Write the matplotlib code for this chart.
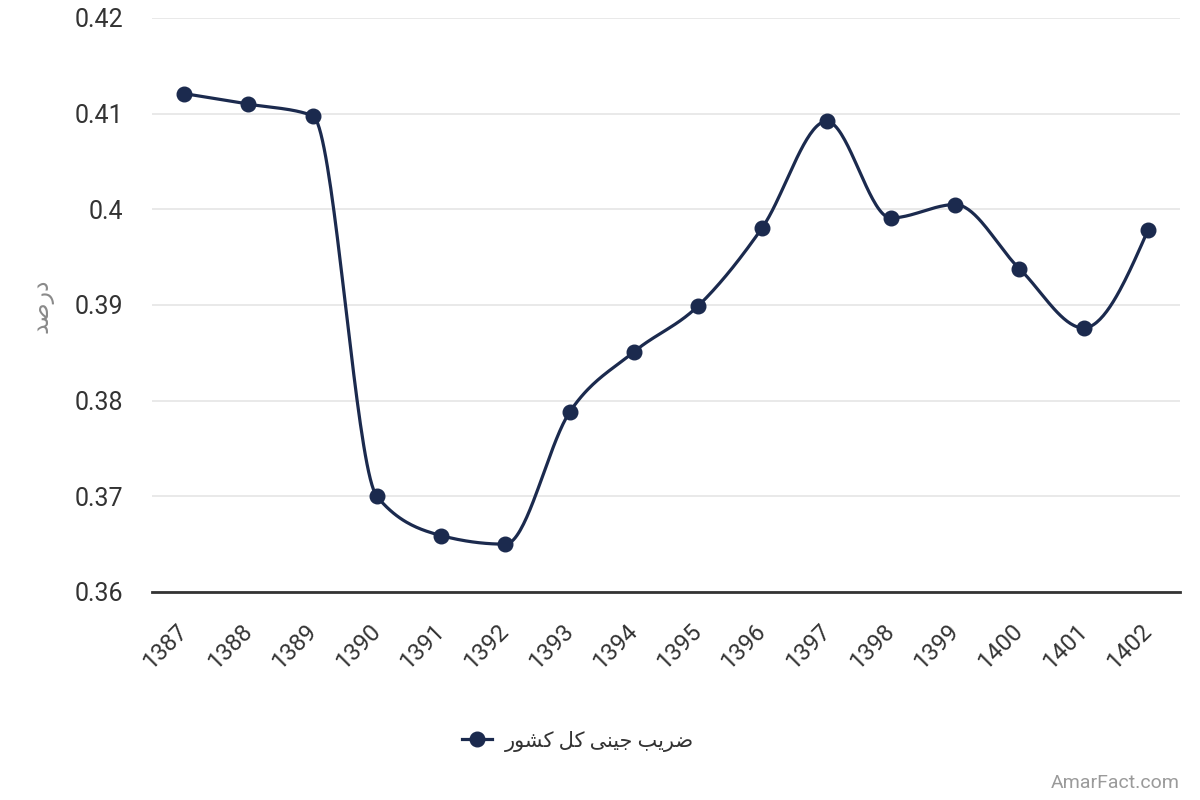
import numpy as np
import matplotlib
matplotlib.use("Agg")
import matplotlib.pyplot as plt
from matplotlib.lines import Line2D

years = ["1387", "1388", "1389", "1390", "1391", "1392", "1393", "1394",
         "1395", "1396", "1397", "1398", "1399", "1400", "1401", "1402"]
gini = [0.4121, 0.4110, 0.4098, 0.3700, 0.3659, 0.3650, 0.3788, 0.3851,
        0.3899, 0.3981, 0.4092, 0.3991, 0.4005, 0.3938, 0.3876, 0.3978]
yticks = [0.36, 0.37, 0.38, 0.39, 0.40, 0.41, 0.42]
ytick_labels = ["0.36", "0.37", "0.38", "0.39", "0.4", "0.41", "0.42"]

# Persian text as shaped presentation forms in visual order
series_name = ("\uFEAD\uFEEE\uFEB8\uFB90 \uFEDE\uFB90 "
               "\uFEF0\uFEE8\uFEF4\uFE9F \uFE90\uFEF3\uFEAE\uFEBF")  # ضریب جینی کل کشور
y_label = "\uFEAA\uFEBB\uFEAD\uFEA9"  # درصد

FAM = ["Roboto", "DejaVu Sans"]
LINE_C = "#1b2a4e"


def monotone_x(xs, ys, n=40):
    xs = np.asarray(xs, float)
    ys = np.asarray(ys, float)
    m = len(xs)
    h = np.diff(xs)
    s = np.diff(ys) / h
    t = np.zeros(m)
    for i in range(1, m - 1):
        h0, h1 = h[i - 1], h[i]
        s0, s1 = s[i - 1], s[i]
        p = (s0 * h1 + s1 * h0) / (h0 + h1)
        t[i] = (np.sign(s0) + np.sign(s1)) * min(abs(s0), abs(s1), 0.5 * abs(p))
    t[0] = (3 * s[0] - t[1]) / 2
    t[-1] = (3 * s[-1] - t[-2]) / 2
    px, py = [], []
    u = np.linspace(0, 1, n)
    for i in range(m - 1):
        x0, x1 = xs[i], xs[i + 1]
        y0, y1 = ys[i], ys[i + 1]
        dx = (x1 - x0) / 3
        cx = [x0, x0 + dx, x1 - dx, x1]
        cy = [y0, y0 + dx * t[i], y1 - dx * t[i + 1], y1]
        b = [(1 - u) ** 3, 3 * (1 - u) ** 2 * u, 3 * (1 - u) * u ** 2, u ** 3]
        px.append(sum(bb * c for bb, c in zip(b, cx)))
        py.append(sum(bb * c for bb, c in zip(b, cy)))
    return np.concatenate(px), np.concatenate(py)


fig = plt.figure(figsize=(12, 8), dpi=100)
ax = fig.add_axes([152 / 1200, 1 - 592 / 800, 1028 / 1200, 574 / 800])

x = np.arange(len(years))
sx, sy = monotone_x(x, gini)
ax.plot(sx, sy, color=LINE_C, lw=2.3, zorder=3, solid_capstyle="round")
ax.plot(x, gini, "o", color=LINE_C, ms=10.5, zorder=4)

ax.set_xlim(-0.5, len(years) - 0.5)
ax.set_ylim(0.36, 0.42)
ax.set_yticks(yticks)
ax.set_yticklabels(ytick_labels, fontfamily=FAM, fontsize=18, color="#333333")
ax.set_xticks(x)
ax.set_xticklabels(years, fontfamily=FAM, fontsize=17, color="#333333",
                   rotation=45, ha="right", va="center", rotation_mode="anchor")
ax.tick_params(axis="y", length=0, pad=21)
ax.tick_params(axis="x", length=0, pad=26)

ax.grid(axis="y", color="#e3e3e3", lw=1.1)
ax.set_axisbelow(True)
for side in ["top", "right", "left"]:
    ax.spines[side].set_visible(False)
ax.spines["bottom"].set_color("#333333")
ax.spines["bottom"].set_linewidth(2)
ax.spines["bottom"].set_zorder(5)

fig.text(42 / 1200, 1 - 306 / 800, y_label, rotation=90, ha="center", va="center",
         fontfamily=FAM, fontsize=17, color="#8a8a8a")

handle = Line2D([], [], color=LINE_C, lw=2.3, marker="o", ms=10.5)
fig.legend([handle], [series_name], loc="center",
           bbox_to_anchor=(578 / 1200, 1 - 741 / 800), frameon=False,
           prop={"family": FAM, "size": 15}, handlelength=1.45,
           handletextpad=0.6, labelcolor="#333333")

fig.text(1180 / 1200, 1 - 783 / 800, "AmarFact.com", ha="right", va="center",
         fontfamily=FAM, fontsize=14, color="#9a9a9a")

fig.savefig("out.png", dpi=100, facecolor="white")
